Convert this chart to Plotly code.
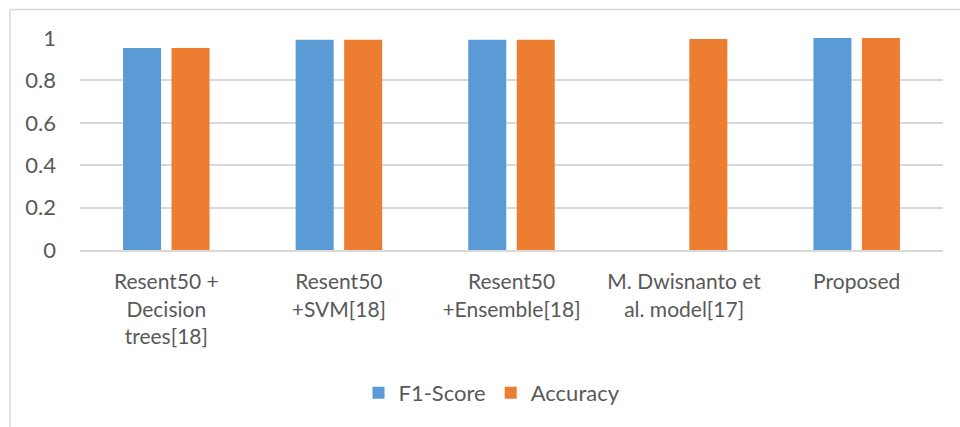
import plotly.graph_objects as go

categories = [
    "Resent50 +<br>Decision<br>trees[18]",
    "Resent50<br>+SVM[18]",
    "Resent50<br>+Ensemble[18]",
    "M. Dwisnanto et<br>al. model[17]",
    "Proposed",
]
f1_score = [0.953, 0.992, 0.992, None, 1.0]
accuracy = [0.953, 0.992, 0.992, 0.995, 1.0]

W, H = 960, 427
ML, MR, MT, MB = 80, 17, 38, 177
pw, ph = W - ML - MR, H - MT - MB

BLUE = "#5B9BD5"
ORANGE = "#ED7D31"
TEXT = "#595959"
GRID = "#D9D9D9"
FONT = "Lato"

fig = go.Figure()
fig.add_trace(go.Bar(name="F1-Score", x=categories, y=f1_score,
                     marker=dict(color=BLUE, line=dict(width=0))))
fig.add_trace(go.Bar(name="Accuracy", x=categories, y=accuracy,
                     marker=dict(color=ORANGE, line=dict(width=0))))

def px_x(x):
    return (x - ML) / pw

def px_y(y):
    return (H - MB - y) / ph

# outer chart frame (top and left edges visible)
fig.add_shape(type="line", xref="paper", yref="paper",
              x0=px_x(10), x1=px_x(980), y0=px_y(9.5), y1=px_y(9.5),
              line=dict(color=GRID, width=1.5))
fig.add_shape(type="line", xref="paper", yref="paper",
              x0=px_x(10), x1=px_x(10), y0=px_y(9.5), y1=px_y(440),
              line=dict(color=GRID, width=1.5))

fig.update_layout(
    width=W, height=H,
    margin=dict(l=ML, r=MR, t=MT, b=MB, autoexpand=False),
    paper_bgcolor="white", plot_bgcolor="white",
    barmode="group", bargap=0.438, bargroupgap=0.216,
    font=dict(family=FONT, color=TEXT, size=21),
    showlegend=True,
    legend=dict(orientation="h", xanchor="center", yanchor="middle",
                x=px_x(492), y=px_y(393),
                font=dict(family=FONT, size=22, color=TEXT),
                itemwidth=30, traceorder="normal"),
    xaxis=dict(showline=True, linecolor=GRID, linewidth=2,
               ticks="", tickfont=dict(size=21, color=TEXT),
               ticklabelstandoff=12,
               showgrid=False, fixedrange=True),
    yaxis=dict(range=[0, 1], dtick=0.2, tick0=0,
               showgrid=True, gridcolor=GRID, gridwidth=1.5,
               zeroline=False, showline=False, ticks="",
               ticklabelstandoff=23,
               tickfont=dict(size=22, color=TEXT), fixedrange=True),
)

fig.write_html("out.html")
